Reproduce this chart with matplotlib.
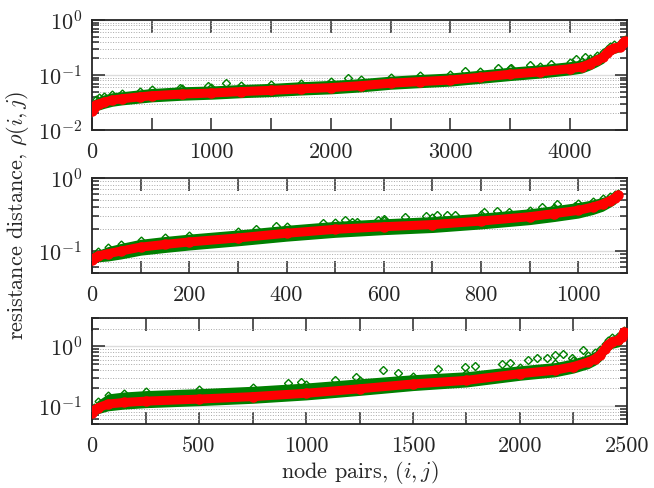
"""Resistance distance per node pair, three networks, log y"""
import numpy as np
import matplotlib.pyplot as plt
from matplotlib.ticker import LogLocator, NullFormatter

plt.rcParams['font.family'] = 'cmr10'
plt.rcParams['mathtext.fontset'] = 'cm'
plt.rcParams['axes.formatter.use_mathtext'] = True
plt.rcParams['font.size'] = 16

# top network
x_top = [0, 15, 30, 60, 100, 170, 250, 400, 500, 750, 1000, 1250, 1500, 1750, 2000, 2250,
         2500, 2750, 3000, 3250, 3500, 3750, 4000, 4100, 4170, 4230, 4280, 4310, 4340,
         4370, 4420, 4445, 4460]
red_top = [0.022, 0.025, 0.0285, 0.030, 0.032, 0.035, 0.037, 0.040, 0.042, 0.045, 0.047,
           0.050, 0.0526, 0.056, 0.059, 0.064, 0.071, 0.076, 0.081, 0.091, 0.103, 0.114,
           0.13, 0.14, 0.16, 0.185, 0.21, 0.25, 0.285, 0.305, 0.325, 0.38, 0.41]
green_hi_top = [0.025, 0.030, 0.036, 0.039, 0.042, 0.046, 0.048, 0.052, 0.055, 0.059, 0.061,
                0.065, 0.068, 0.073, 0.077, 0.083, 0.092, 0.099, 0.105, 0.118, 0.134, 0.148,
                0.169, 0.180, 0.205, 0.235, 0.26, 0.30, 0.34, 0.36, 0.38, 0.43, 0.45]
green_lo_top = [0.0205, 0.021, 0.023, 0.024, 0.0256, 0.028, 0.0296, 0.032, 0.0336, 0.036,
                0.0376, 0.040, 0.042, 0.0448, 0.047, 0.051, 0.057, 0.061, 0.065, 0.073, 0.082,
                0.091, 0.104, 0.112, 0.128, 0.148, 0.17, 0.205, 0.235, 0.255, 0.275, 0.33,
                0.36]
out_x_top = [734, 971, 1124, 2142, 3121, 3400, 3512, 3665, 3847, 4056, 4126]
out_y_top = [0.059, 0.064, 0.0705, 0.0895, 0.118, 0.132, 0.136, 0.152, 0.156, 0.193, 0.21]

# middle network
x_mid = [0, 5, 12, 33, 60, 100, 150, 200, 300, 400, 500, 600, 700, 800, 900, 950, 1000,
         1030, 1050, 1065, 1075, 1081]
red_mid = [0.0755, 0.080, 0.0855, 0.092, 0.100, 0.113, 0.123, 0.133, 0.151, 0.175, 0.198,
           0.215, 0.230, 0.257, 0.295, 0.325, 0.36, 0.40, 0.44, 0.49, 0.53, 0.58]
green_hi_mid = [0.079, 0.089, 0.099, 0.112, 0.124, 0.141, 0.154, 0.166, 0.189, 0.219, 0.248,
                0.269, 0.288, 0.321, 0.369, 0.406, 0.45, 0.49, 0.53, 0.57, 0.60, 0.62]
green_lo_mid = [0.071, 0.072, 0.073, 0.075, 0.080, 0.090, 0.098, 0.106, 0.121, 0.140, 0.158,
                0.172, 0.184, 0.206, 0.236, 0.260, 0.29, 0.325, 0.36, 0.41, 0.45, 0.52]
out_x_mid = [338, 379, 475, 520, 534, 545, 589, 601, 644, 687, 709, 730, 747, 805, 833, 857,
             925, 956, 994]
out_y_mid = [0.200, 0.218, 0.241, 0.262, 0.252, 0.246, 0.262, 0.276, 0.291, 0.303, 0.313,
             0.316, 0.313, 0.347, 0.358, 0.347, 0.406, 0.436, 0.418]

# bottom network
x_bot = [0, 10, 28, 75, 150, 250, 500, 750, 1000, 1250, 1500, 1750, 2000, 2164, 2250, 2320,
         2350, 2374, 2395, 2410, 2430, 2460, 2475, 2485]
red_bot = [0.0774, 0.085, 0.094, 0.108, 0.115, 0.121, 0.131, 0.144, 0.164, 0.195, 0.235,
           0.27, 0.35, 0.40, 0.46, 0.55, 0.62, 0.72, 0.90, 1.06, 1.2, 1.27, 1.45, 1.75]
green_hi_bot = [0.081, 0.098, 0.120, 0.155, 0.167, 0.176, 0.190, 0.208, 0.236, 0.278, 0.325,
                0.365, 0.46, 0.52, 0.60, 0.71, 0.80, 0.92, 1.12, 1.30, 1.45, 1.52, 1.68, 1.92]
green_lo_bot = [0.072, 0.074, 0.077, 0.086, 0.092, 0.097, 0.105, 0.115, 0.131, 0.156, 0.188,
                0.216, 0.28, 0.32, 0.37, 0.44, 0.50, 0.58, 0.72, 0.85, 0.96, 1.02, 1.16, 1.45]
out_x_bot = [916, 978, 1134, 1232, 1361, 1431, 1618, 1743, 1790, 1914, 1953, 2039, 2078,
             2125, 2164, 2203, 2241, 2296]
out_y_bot = [0.248, 0.25, 0.274, 0.313, 0.404, 0.365, 0.415, 0.46, 0.472, 0.51, 0.537, 0.596,
             0.652, 0.64, 0.72, 0.74, 0.652, 0.876]

GREEN = '#008000'
AXC = '#262626'


def draw_panel(ax, x, red, hi, lo, ox, oy, xmax, xticks, xlabels, ylim):
    ax.fill_between(x, lo, hi, color=GREEN, lw=1.2, zorder=2)
    ax.plot(x, hi, 'D', mfc='none', mec=GREEN, ms=3.5, mew=1, zorder=2)
    ax.plot(ox, oy, 'D', mfc='none', mec=GREEN, ms=4, mew=1, zorder=2)
    ax.plot(x, red, '-o', color='red', lw=6.5, ms=6.5, solid_capstyle='round', zorder=3)

    ax.set_yscale('log')
    ax.set_xlim(0, xmax)
    ax.set_ylim(*ylim)
    ax.set_xticks(xticks)
    ax.set_xticklabels(xlabels)
    ax.yaxis.set_major_locator(LogLocator(base=10, numticks=10))
    ax.yaxis.set_minor_locator(LogLocator(base=10, subs=np.arange(2, 10), numticks=20))
    ax.yaxis.set_minor_formatter(NullFormatter())
    ax.tick_params(which='both', direction='in', top=True, right=True, color=AXC,
                   labelcolor=AXC, width=1.1)
    ax.tick_params(which='major', length=9)
    ax.tick_params(axis='x', pad=9)
    ax.tick_params(axis='y', pad=7)
    ax.tick_params(which='minor', length=5)
    ax.grid(True, which='major', axis='y', color='#dcdcdc', lw=1, ls='-')
    ax.grid(True, which='minor', axis='y', color='#a8a8a8', lw=0.7, ls=':')
    ax.set_axisbelow(True)
    for s in ax.spines.values():
        s.set_color(AXC)
        s.set_linewidth(1.3)
    return ax


def main():
    fig = plt.figure(figsize=(6.54, 4.88), dpi=100)

    ax1 = fig.add_axes([0.1407, 0.7336, 0.818, 0.2254])
    draw_panel(ax1, x_top, red_top, green_hi_top, green_lo_top, out_x_top, out_y_top,
               4480, range(0, 4001, 500),
               ['0', '', '1000', '', '2000', '', '3000', '', '4000'], (0.01, 1))

    ax2 = fig.add_axes([0.1407, 0.4406, 0.818, 0.1947])
    draw_panel(ax2, x_mid, red_mid, green_hi_mid, green_lo_mid, out_x_mid, out_y_mid,
               1100, range(0, 1001, 100),
               ['0', '', '200', '', '400', '', '600', '', '800', '', '1000'], (0.05, 1))

    ax3 = fig.add_axes([0.1407, 0.1311, 0.818, 0.2172])
    draw_panel(ax3, x_bot, red_bot, green_hi_bot, green_lo_bot, out_x_bot, out_y_bot,
               2500, range(0, 2501, 250),
               ['0', '', '500', '', '1000', '', '1500', '', '2000', '', '2500'], (0.05, 3))

    ax3.set_xlabel(r'node pairs, $(i,j)$', color=AXC, labelpad=2)
    fig.text(18 / 654, 1 - 215 / 488, r'resistance distance, $\rho(i,j)$', rotation=90,
             ha='center', va='center', color=AXC, fontsize=16)

    plt.savefig('out.png', dpi=100)


if __name__ == "__main__":
    main()
